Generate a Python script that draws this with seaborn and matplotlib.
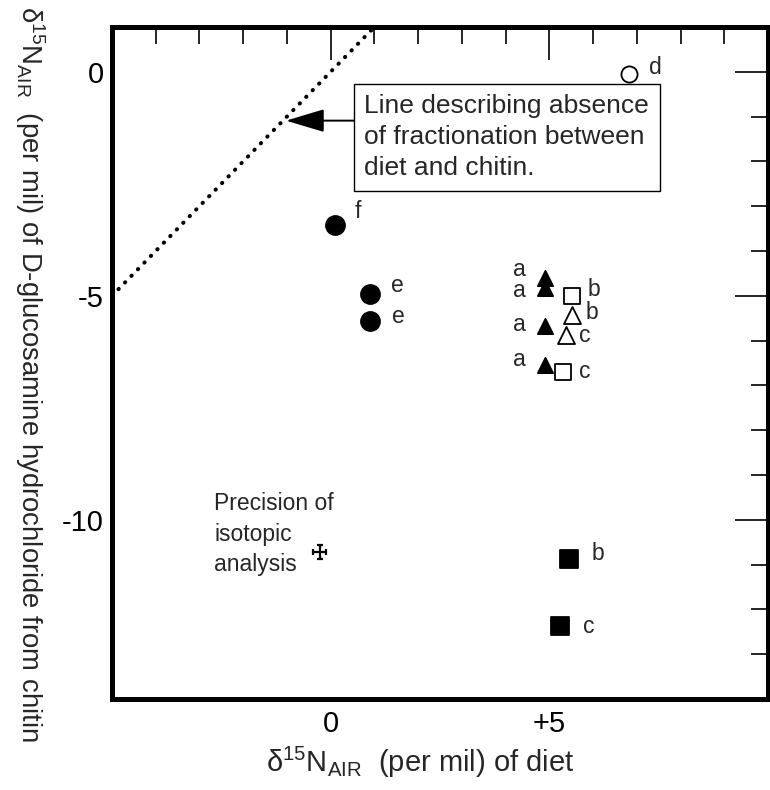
import matplotlib
matplotlib.use("Agg")
import matplotlib.pyplot as plt
import seaborn as sns
from matplotlib.ticker import FixedLocator, MultipleLocator

# d15N of diet (x) vs d15N of D-glucosamine hydrochloride from chitin (y), per mil
filled_circle_x = [0.1, 0.9, 0.9]
filled_circle_y = [-3.43, -4.95, -5.57]
filled_circle_lab = ["f", "e", "e"]

open_circle_x = [6.83]
open_circle_y = [-0.04]
open_circle_lab = ["d"]

filled_tri_x = [4.9, 4.9, 4.9, 4.9]
filled_tri_y = [-4.61, -4.83, -5.67, -6.54]
filled_tri_lab = ["a", "a", "a", "a"]

open_sq_x = [5.51, 5.32]
open_sq_y = [-5.01, -6.71]
open_sq_lab = ["b", "c"]

open_tri_x = [5.51, 5.39]
open_tri_y = [-5.43, -5.87]
open_tri_lab = ["b", "c"]

filled_sq_x = [5.45, 5.25]
filled_sq_y = [-10.87, -12.38]
filled_sq_lab = ["b", "c"]

# analytical precision (+/- per mil on both axes)
precision_x = [-0.25]
precision_y = [-10.72]
precision_err = 0.15

# 1:1 line (no fractionation between diet and chitin)
one_to_one = [-5.0, 1.0]

x_ticks = [0, 5]
x_ticklabels = ["0", "+5"]
y_ticks = [-10, -5, 0]
y_ticklabels = ["-10", "-5", "0"]

sns.set_style("white")
plt.rcParams["font.family"] = ["Liberation Sans", "DejaVu Sans"]
plt.rcParams["mathtext.fontset"] = "custom"
plt.rcParams["mathtext.rm"] = "Liberation Sans"
plt.rcParams["mathtext.it"] = "Liberation Sans"

PX = 72 / 100.0  # points per pixel at dpi 100

fig = plt.figure(figsize=(7.7, 7.9), dpi=100)
ax = fig.add_axes([112 / 770, 1 - 699 / 790, (768 - 112) / 770, (699 - 27) / 790])

ax.set_xlim(-5, 10)
ax.set_ylim(-14, 1)

# dotted 1:1 line
sns.lineplot(x=one_to_one, y=one_to_one, ax=ax, color="black", linewidth=2.9,
             linestyle=(0, (0.1, 2.2)), estimator=None)
ax.lines[-1].set_dash_capstyle("round")


def draw_group(xs, ys, labs, marker, size, face, offsets):
    sns.scatterplot(x=xs, y=ys, ax=ax, marker=marker, s=size, color=face,
                    edgecolor="black", linewidth=1.3, zorder=3)
    for xv, yv, lab, (dx, dy) in zip(xs, ys, labs, offsets):
        ax.annotate(lab, (xv, yv), xytext=(dx * PX, dy * PX), textcoords="offset points",
                    ha="center", va="center", fontsize=16.5)


draw_group(filled_circle_x, filled_circle_y, filled_circle_lab, "o", 187, "black",
           [(23, 14), (27, 8), (28, 5)])
draw_group(open_circle_x, open_circle_y, open_circle_lab, "o", 135, "white",
           [(26, 6)])
draw_group(filled_tri_x, filled_tri_y, filled_tri_lab, "^", 120, "black",
           [(-26, 9), (-26, -2), (-26, 1), (-26, 5)])
draw_group(open_sq_x, open_sq_y, open_sq_lab, "s", 140, "white",
           [(22, 7), (21, 1)])
draw_group(open_tri_x, open_tri_y, open_tri_lab, "^", 150, "white",
           [(20, 3), (18, -1)])
draw_group(filled_sq_x, filled_sq_y, filled_sq_lab, "s", 150, "black",
           [(29, 5), (28, 0)])

# precision cross
ax.errorbar(precision_x, precision_y, xerr=precision_err, yerr=precision_err,
            fmt="none", ecolor="black", elinewidth=1.6, capsize=2.5, capthick=1.6)
ax.text(-2.66, -9.39, "Precision of\nisotopic\nanalysis", ha="left", va="top",
        fontsize=16.5, linespacing=1.4)

# callout box with arrow to the 1:1 line
ax.text(0.77, -0.5, "Line describing absence\nof fractionation between\ndiet and chitin.",
        ha="left", va="top", fontsize=19, linespacing=1.37,
        bbox=dict(boxstyle="square,pad=0.4", facecolor="white", edgecolor="black",
                  linewidth=1.0))
ax.annotate("", xy=(-1.02, -1.09), xytext=(0.53, -1.09),
            arrowprops=dict(arrowstyle="-|>,head_length=2.4,head_width=0.72",
                            mutation_scale=10, color="black", linewidth=1.4,
                            shrinkA=0, shrinkB=0))

# axes frame and ticks
for sp in ax.spines.values():
    sp.set_linewidth(3.6)
    sp.set_color("black")

ax.xaxis.set_major_locator(FixedLocator(x_ticks))
ax.xaxis.set_minor_locator(MultipleLocator(1))
ax.yaxis.set_major_locator(FixedLocator(y_ticks))
ax.yaxis.set_minor_locator(MultipleLocator(1))
ax.set_xticklabels(x_ticklabels)
ax.set_yticklabels(y_ticklabels)
ax.tick_params(which="both", direction="in", top=True, right=True, width=1.2,
               colors="black")
ax.tick_params(which="major", length=24, labelsize=21)
ax.tick_params(which="minor", length=12.5)
ax.tick_params(axis="x", which="major", pad=8)
ax.tick_params(axis="y", which="major", pad=6)

ax.set_xlabel(r"δ$^{15}$N$_{\mathregular{AIR}}$  (per mil) of diet", fontsize=21)
ax.xaxis.set_label_coords(0.47, -0.068)

# y label reads top-to-bottom
ax.set_ylabel(r"δ$^{15}$N$_{\mathregular{AIR}}$  (per mil) of D-glucosamine hydrochloride from chitin",
              fontsize=19.8, rotation=270, va="center", ha="center")
ax.yaxis.set_label_coords(-0.125, 0.484)

fig.savefig("out.png", dpi=100)
